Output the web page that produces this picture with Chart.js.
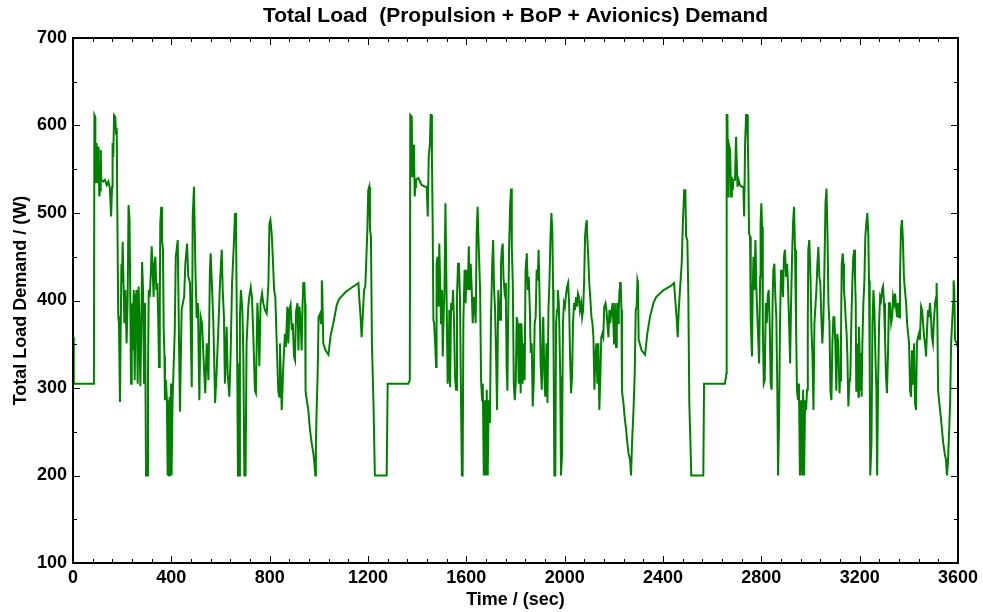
<!DOCTYPE html>
<html>
<head>
<meta charset="utf-8">
<title>Total Load Demand</title>
<script src="https://cdn.jsdelivr.net/npm/chart.js@4.4.1/dist/chart.umd.min.js"></script>
<style>
  html, body { margin: 0; padding: 0; background: #ffffff; }
  canvas { display: block; }
</style>
</head>
<body>
<canvas id="loadChart" width="983" height="612"></canvas>
<script>
// ---- Load demand trace, split into the three repeating mission cycles ----
const cycle1Time = [0,2,4,83,85,87,90,91,94,96,99,102,104,107,110,113,115,123,130,137,144,150,155,159,161,164,167,172,175,178,180,184,187,191,194,197,199,202,205,209,213,218,222,226,230,233,236,239,243,247,251,255,259,263,267,270,274,277,281,285,289,293,297,302,305,308,312,316,320,324,328,331,335,339,343,347,350,353,355,359,362,366,369,372,374,378,382,385,388,391,393,396,399,401,405,414,418,426,435,442,452,457,464,469,476,483,487,492,498,503,508,514,519,525,530,536,538,544,551,557,560,567,571,578,584,591,598,605,609,614,618,625,629,636,641,647,655,659,663,668,671,677,679,683,689,693,697,702,706,713,717,723,728,734,740,744,750,754,758,763,769,774,781,788,795,799,803,808,812,818,823,828,835,839,842,849,856,862,866,872,876,880,885,890,894,899,903,907,913,917,921,926,930,934,937,941,944,946,951,957,964,971,978,982,986,988,991,995,999,1005,1009,1012,1014,1018,1027,1039,1048,1059,1073,1083,1110,1140,1161,1165,1170,1174,1178,1184,1189,1192,1197,1201,1205,1208,1212,1216,1222,1228,1276,1280,1330];
const cycle1Load = [358,351,305,305,309,612,610,534,580,574,534,576,564,519,526,572,538,536,538,532,536,528,496,530,580,564,612,610,591,597,511,382,374,284,366,442,420,467,427,374,412,351,397,509,492,404,305,397,343,412,309,404,412,305,416,374,302,355,444,412,305,397,200,200,313,412,404,427,462,435,404,442,450,412,420,374,324,393,488,507,469,458,366,336,286,309,286,200,286,200,290,200,305,200,286,366,450,469,273,390,404,442,465,427,420,301,496,530,435,380,397,286,382,374,340,305,294,351,309,435,454,404,374,283,317,366,420,458,412,381,305,370,317,290,336,420,469,500,488,328,200,200,381,412,389,336,200,200,351,393,404,415,404,355,297,294,397,374,325,397,408,397,389,385,420,488,492,477,454,412,404,358,297,290,351,275,328,362,347,393,351,389,395,366,374,336,332,387,397,343,393,378,343,397,420,420,397,297,286,275,252,237,225,214,200,237,275,313,381,385,374,423,412,351,343,338,360,374,395,402,410,416,420,400,381,358,378,412,416,439,477,526,530,481,473,351,286,200,200,305,305];

const cycle2Time = [1364,1370,1372,1378,1380,1384,1387,1390,1393,1395,1405,1418,1432,1439,1443,1447,1452,1455,1458,1460,1463,1466,1469,1473,1477,1479,1483,1487,1490,1493,1497,1501,1504,1507,1511,1515,1517,1520,1524,1527,1531,1534,1538,1542,1546,1550,1554,1558,1562,1566,1570,1574,1578,1582,1585,1588,1593,1597,1601,1606,1610,1614,1618,1622,1626,1630,1634,1638,1642,1646,1650,1656,1660,1664,1667,1671,1675,1679,1683,1687,1691,1696,1700,1705,1709,1713,1717,1721,1725,1730,1737,1741,1744,1748,1751,1755,1759,1761,1764,1767,1770,1774,1778,1782,1785,1789,1793,1797,1801,1805,1809,1813,1817,1821,1824,1827,1829,1833,1837,1841,1846,1850,1854,1858,1862,1866,1870,1874,1878,1882,1886,1890,1894,1898,1902,1907,1911,1913,1917,1921,1926,1930,1934,1938,1942,1946,1950,1953,1955,1958,1962,1965,1969,1972,1976,1978,1982,1985,1989,1993,1997,2001,2006,2010,2014,2018,2022,2026,2030,2034,2038,2042,2046,2050,2054,2058,2062,2067,2071,2075,2079,2083,2087,2090,2092,2096,2100,2104,2109,2113,2117,2121,2125,2129,2133,2137,2141,2145,2149,2153,2157,2161,2166,2170,2174,2178,2182,2185,2191,2195,2198,2201,2204,2206,2209,2212,2214,2217,2220,2223,2225,2228,2231,2233,2239,2244,2250,2255,2260,2266,2270,2274,2280,2285,2289,2293,2296,2298,2301,2313,2327,2336,2347,2361,2372,2402,2429,2445,2450,2456,2460,2464,2469,2476,2480,2486,2491,2494,2499,2503,2507,2513,2515,2564,2567,2652,2658];
const cycle2Load = [305,309,612,610,541,578,572,519,530,538,540,532,530,530,496,564,580,612,612,564,492,378,374,351,324,442,450,393,465,427,374,412,336,374,412,511,511,397,305,317,389,301,397,389,412,374,313,298,404,442,442,404,298,200,200,378,435,397,435,412,462,412,442,412,374,404,397,374,477,507,465,412,309,286,305,200,286,200,298,200,286,260,374,439,469,412,389,336,275,412,378,442,458,465,427,412,420,397,324,297,374,461,507,528,461,420,305,286,305,381,374,305,374,294,374,347,305,351,309,435,454,412,427,393,340,351,279,305,374,381,435,423,458,404,328,298,374,381,317,290,351,283,389,420,469,500,477,412,336,200,200,374,389,412,397,374,313,200,222,374,397,393,408,416,420,397,336,294,313,374,397,389,404,393,408,404,389,397,381,389,420,473,488,492,473,450,420,404,381,374,358,298,336,351,305,351,275,313,358,362,358,393,397,389,374,358,389,374,389,397,374,351,397,374,347,378,397,374,389,412,420,420,389,297,283,267,252,237,225,218,200,237,275,317,389,393,423,420,355,343,338,362,381,397,404,412,416,420,400,378,358,389,412,442,481,526,526,473,469,408,283,222,200,200,305,305,317];

const cycle3Time = [2659,2662,2665,2667,2673,2677,2680,2684,2686,2693,2697,2700,2703,2707,2713,2720,2727,2730,2734,2738,2742,2745,2747,2750,2754,2757,2760,2762,2765,2768,2772,2776,2780,2784,2788,2791,2795,2797,2800,2803,2806,2810,2814,2818,2822,2826,2830,2834,2838,2842,2846,2849,2853,2857,2861,2865,2868,2872,2876,2880,2884,2888,2892,2896,2901,2905,2909,2913,2917,2921,2925,2929,2933,2937,2941,2945,2949,2953,2957,2962,2966,2970,2974,2978,2982,2986,2989,2991,2995,3000,3004,3008,3012,3016,3020,3024,3028,3032,3036,3040,3044,3048,3052,3056,3061,3065,3069,3073,3077,3081,3085,3089,3093,3097,3101,3105,3109,3113,3118,3120,3124,3127,3131,3134,3136,3140,3144,3147,3150,3154,3158,3162,3166,3170,3174,3178,3181,3184,3186,3189,3192,3195,3197,3200,3203,3205,3208,3211,3215,3219,3223,3227,3231,3235,3238,3241,3243,3248,3252,3256,3260,3264,3268,3271,3275,3279,3283,3287,3291,3295,3299,3303,3307,3311,3315,3319,3323,3328,3332,3336,3340,3344,3348,3352,3356,3360,3364,3368,3372,3376,3380,3384,3389,3393,3397,3401,3405,3409,3413,3417,3421,3425,3429,3433,3437,3441,3445,3450,3454,3458,3462,3466,3470,3474,3478,3482,3486,3490,3494,3498,3502,3507,3511,3513,3516,3519,3524,3530,3535,3540,3546,3551,3555,3559,3563,3568,3572,3576,3580,3582,3585,3588,3595,3600];
const cycle3Load = [612,612,519,580,572,519,541,526,538,538,587,587,530,538,532,530,530,496,580,612,612,583,553,477,473,378,351,336,412,450,412,469,412,381,351,328,427,488,511,484,374,305,309,397,374,404,412,374,305,298,404,435,442,404,381,298,200,260,374,435,427,404,450,458,427,442,412,374,328,397,450,488,507,458,374,298,286,305,200,286,200,298,200,286,275,298,374,458,469,427,366,336,275,374,393,412,442,461,427,420,381,351,374,427,511,528,477,397,374,297,286,351,381,381,351,297,362,351,294,309,355,442,454,442,412,397,374,362,336,279,305,313,374,420,450,458,427,397,297,351,336,290,370,336,298,340,290,351,397,420,473,488,500,477,423,317,200,237,374,412,389,336,298,200,305,374,404,400,412,416,397,359,313,294,336,397,397,374,381,404,397,408,393,381,397,381,427,481,492,469,427,412,397,374,362,351,297,290,343,305,351,283,275,351,358,362,355,393,389,374,358,351,336,366,389,381,397,381,358,351,378,397,404,420,381,297,283,267,252,237,225,218,200,214,244,283,351,374,397,423,412,355,351,345];

// ---- Axis ticks ----
const xTickValues = [0, 400, 800, 1200, 1600, 2000, 2400, 2800, 3200, 3600];
const yTickValues = [100, 200, 300, 400, 500, 600, 700];
const xMinorStep = 80;
const yMinorStep = 50;

const FONT = "'Liberation Sans', Arial, Helvetica, sans-serif";

function toPoints(times, loads) {
  return times.map((t, i) => ({ x: t, y: loads[i] }));
}
const loadPoints = [].concat(
  toPoints(cycle1Time, cycle1Load),
  toPoints(cycle2Time, cycle2Load),
  toPoints(cycle3Time, cycle3Load)
);

// Boxed frame with inward major/minor ticks on all four sides
const boxTicks = {
  id: 'boxTicks',
  afterDatasetsDraw(chart) {
    const { ctx, chartArea: a, scales: { x, y } } = chart;
    ctx.save();
    ctx.strokeStyle = '#000000';
    ctx.lineWidth = 1;
    const seg = (x1, y1, x2, y2) => {
      ctx.beginPath(); ctx.moveTo(x1, y1); ctx.lineTo(x2, y2); ctx.stroke();
    };
    const xMin = xTickValues[0], xMax = xTickValues[xTickValues.length - 1];
    for (let v = xMin; v <= xMax; v += xMinorStep) {
      const px = Math.round(x.getPixelForValue(v)) + 0.5;
      const len = xTickValues.includes(v) ? 7 : 4;
      seg(px, a.bottom, px, a.bottom - len);
      seg(px, a.top, px, a.top + len);
    }
    const yMin = yTickValues[0], yMax = yTickValues[yTickValues.length - 1];
    for (let v = yMin; v <= yMax; v += yMinorStep) {
      const py = Math.round(y.getPixelForValue(v)) + 0.5;
      const len = yTickValues.includes(v) ? 7 : 4;
      seg(a.left, py, a.left + len, py);
      seg(a.right, py, a.right - len, py);
    }
    ctx.lineWidth = 2;
    ctx.strokeRect(a.left, a.top, a.right - a.left, a.bottom - a.top);
    ctx.restore();
  }
};

new Chart(document.getElementById('loadChart'), {
  type: 'line',
  data: {
    datasets: [{
      data: loadPoints,
      borderColor: '#008000',
      borderWidth: 2,
      pointRadius: 0,
      tension: 0,
      fill: false
    }]
  },
  options: {
    responsive: false,
    animation: false,
    events: [],
    layout: { padding: { left: 0, right: 25, top: 0, bottom: 0 } },
    plugins: {
      legend: { display: false },
      tooltip: { enabled: false },
      title: {
        display: true,
        fullSize: false,
        text: 'Total Load  (Propulsion + BoP + Avionics) Demand',
        color: '#000000',
        font: { family: FONT, size: 21, weight: 'bold' },
        padding: { top: 3.2, bottom: 9.6 }
      }
    },
    scales: {
      x: {
        type: 'linear',
        min: xTickValues[0],
        max: xTickValues[xTickValues.length - 1],
        afterBuildTicks: (s) => { s.ticks = xTickValues.map(v => ({ value: v })); },
        afterFit: (s) => { s.height = 49; },
        grid: { display: false, drawTicks: false },
        border: { display: false },
        ticks: {
          color: '#000000',
          padding: 4,
          maxRotation: 0,
          autoSkip: false,
          callback: (v) => String(v),
          font: { family: FONT, size: 18, weight: 'bold' }
        },
        title: {
          display: true,
          text: 'Time / (sec)',
          color: '#000000',
          font: { family: FONT, size: 18, weight: 'bold' },
          padding: { top: 0, bottom: 1 }
        }
      },
      y: {
        type: 'linear',
        min: yTickValues[0],
        max: yTickValues[yTickValues.length - 1],
        afterBuildTicks: (s) => { s.ticks = yTickValues.map(v => ({ value: v })); },
        afterFit: (s) => { s.width = 73; },
        grid: { display: false, drawTicks: false },
        border: { display: false },
        ticks: {
          color: '#000000',
          padding: 6,
          autoSkip: false,
          callback: (v) => String(v),
          font: { family: FONT, size: 18, weight: 'bold' }
        },
        title: {
          display: true,
          text: 'Total Load Demand / (W)',
          color: '#000000',
          font: { family: FONT, size: 18, weight: 'bold' },
          padding: { top: 10, bottom: 0 }
        }
      }
    }
  },
  plugins: [boxTicks]
});
</script>
</body>
</html>
